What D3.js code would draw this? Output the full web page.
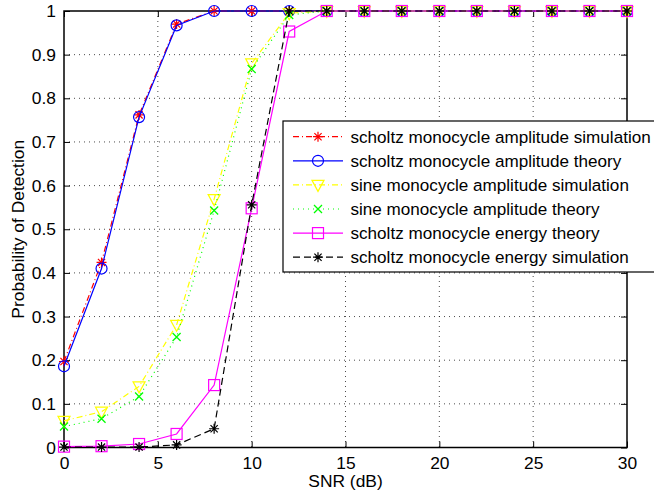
<!DOCTYPE html>
<html><head><meta charset="utf-8">
<script src="https://cdn.jsdelivr.net/npm/d3@7"></script>
<style>body{margin:0;background:#fff;} text{font-family:"Liberation Sans",Arial,sans-serif;}</style>
</head><body>
<svg id="c" width="654" height="498"></svg>
<script>
const snr = [0,2,4,6,8,10,12,14,16,18,20,22,24,26,28,30];
const scholtzAmpSim = [0.197,0.424,0.762,0.970,1,1,1,1,1,1,1,1,1,1,1,1];
const scholtzAmpTheory = [0.186,0.410,0.757,0.967,1,1,1,1,1,1,1,1,1,1,1,1];
const sineAmpSim = [0.061,0.082,0.140,0.281,0.569,0.880,0.995,1,1,1,1,1,1,1,1,1];
const sineAmpTheory = [0.048,0.066,0.117,0.253,0.543,0.867,0.991,1,1,1,1,1,1,1,1,1];
const scholtzEnergyTheory = [0.002,0.003,0.008,0.031,0.143,0.548,0.953,1,1,1,1,1,1,1,1,1];
const scholtzEnergySim = [0.001,0.001,0.001,0.006,0.043,0.556,1,1,1,1,1,1,1,1,1,1];
const xTicks = [0,5,10,15,20,25,30];
const yTicks = [0,0.1,0.2,0.3,0.4,0.5,0.6,0.7,0.8,0.9,1];
const seriesNames = ["scholtz monocycle amplitude simulation","scholtz monocycle amplitude theory","sine monocycle amplitude simulation","sine monocycle amplitude theory","scholtz monocycle energy theory","scholtz monocycle energy simulation"];

const series = [
  {name:seriesNames[0], values:scholtzAmpSim, color:"#ff0000", dash:"6,3,1,3", marker:"star"},
  {name:seriesNames[1], values:scholtzAmpTheory, color:"#0000ff", dash:null, marker:"circle"},
  {name:seriesNames[2], values:sineAmpSim, color:"#ffff00", dash:"6,3,1,3", marker:"tri"},
  {name:seriesNames[3], values:sineAmpTheory, color:"#00ff00", dash:"1,4", marker:"x"},
  {name:seriesNames[4], values:scholtzEnergyTheory, color:"#ff00ff", dash:null, marker:"square"},
  {name:seriesNames[5], values:scholtzEnergySim, color:"#000000", dash:"7,4", marker:"star"}
];

const L=64,R=627,T=11,B=447.5;
const svg=d3.select("#c");
const x=d3.scaleLinear().domain([0,30]).range([L,R]);
const y=d3.scaleLinear().domain([0,1]).range([B,T]);

// grid
const g=svg.append("g");
g.selectAll(".gx").data(xTicks.slice(1,-1)).enter().append("line")
 .attr("x1",d=>x(d)).attr("x2",d=>x(d)).attr("y1",T).attr("y2",B)
 .attr("stroke","#000").attr("stroke-width",1).attr("stroke-dasharray","1,4").attr("opacity",0.7);
g.selectAll(".gy").data(yTicks.slice(1,-1)).enter().append("line")
 .attr("y1",d=>y(d)).attr("y2",d=>y(d)).attr("x1",L).attr("x2",R)
 .attr("stroke","#000").attr("stroke-width",1).attr("stroke-dasharray","1,4").attr("opacity",0.7);

// axes
const fs=17.4, lfs=17.1;
const xa=svg.append("g").attr("transform",`translate(0,${B})`)
 .call(d3.axisBottom(x).tickValues(xTicks).tickSize(-6).tickPadding(9).tickFormat(d3.format("d")));
const ya=svg.append("g").attr("transform",`translate(${L},0)`)
 .call(d3.axisLeft(y).tickValues(yTicks).tickSize(-6).tickPadding(8).tickFormat(d=>d===0?"0":d===1?"1":d3.format(".1f")(d)));
svg.append("g").attr("transform",`translate(0,${T})`)
 .call(d3.axisTop(x).tickValues(xTicks).tickSize(-6).tickFormat(""));
svg.append("g").attr("transform",`translate(${R},0)`)
 .call(d3.axisRight(y).tickValues(yTicks).tickSize(-6).tickFormat(""));
svg.selectAll(".domain").remove();
svg.selectAll(".tick line").attr("stroke","#000");
svg.selectAll(".tick text").attr("font-size",fs).attr("fill","#000").attr("font-family","Liberation Sans, Arial, sans-serif");
svg.append("rect").attr("x",L).attr("y",T).attr("width",R-L).attr("height",B-T)
 .attr("fill","none").attr("stroke","#000").attr("stroke-width",1.5);

// labels
svg.append("text").attr("x",(L+R)/2).attr("y",487).attr("text-anchor","middle").attr("font-size",fs).text("SNR (dB)");
svg.append("text").attr("transform",`translate(24,${(T+B)/2}) rotate(-90)`).attr("text-anchor","middle").attr("font-size",fs).text("Probability of Detection");

function drawMarker(sel,type,color){
  const s=5.5;
  if(type==="circle") sel.append("circle").attr("r",s).attr("fill","none").attr("stroke",color).attr("stroke-width",1.2);
  else if(type==="square") sel.append("rect").attr("x",-s).attr("y",-s).attr("width",2*s).attr("height",2*s).attr("fill","none").attr("stroke",color).attr("stroke-width",1.2);
  else if(type==="tri") sel.append("path").attr("d",`M${-s-0.5},${-s+1}L${s+0.5},${-s+1}L0,${s+1}Z`).attr("fill","none").attr("stroke",color).attr("stroke-width",1.2);
  else if(type==="x") sel.append("path").attr("d",`M-4,-4L4,4M-4,4L4,-4`).attr("stroke",color).attr("stroke-width",1.3);
  else if(type==="star") sel.append("path").attr("d",`M-5,0L5,0M0,-5L0,5M-3.6,-3.6L3.6,3.6M-3.6,3.6L3.6,-3.6`).attr("stroke",color).attr("stroke-width",1.2);
}

const line=d3.line().x((d,i)=>x(snr[i])).y(d=>y(d));
series.forEach(s=>{
  svg.append("path").datum(s.values).attr("d",line).attr("fill","none")
   .attr("stroke",s.color).attr("stroke-width",1.2).attr("stroke-dasharray",s.dash);
  svg.append("g").selectAll("g").data(s.values).enter().append("g")
   .attr("transform",(d,i)=>`translate(${x(snr[i])},${y(d)})`)
   .each(function(){drawMarker(d3.select(this),s.marker,s.color);});
});

// legend (its right border lies beyond the picture edge, as in the reference)
const lx=283,ly=121,lw=385,lh=151;
const leg=svg.append("g");
leg.append("rect").attr("x",lx).attr("y",ly).attr("width",lw).attr("height",lh).attr("fill","#fff").attr("stroke","#000").attr("stroke-width",1.2);
series.forEach((s,i)=>{
  const cy=136.7+i*24.1;
  leg.append("line").attr("x1",293).attr("x2",343).attr("y1",cy).attr("y2",cy)
   .attr("stroke",s.color).attr("stroke-width",1.2).attr("stroke-dasharray",s.dash);
  drawMarker(leg.append("g").attr("transform",`translate(318,${cy})`),s.marker,s.color);
  leg.append("text").attr("x",350.5).attr("y",cy).attr("dy","0.35em").attr("font-size",lfs).attr("fill","#000").text(s.name);
});
</script>
</body></html>
